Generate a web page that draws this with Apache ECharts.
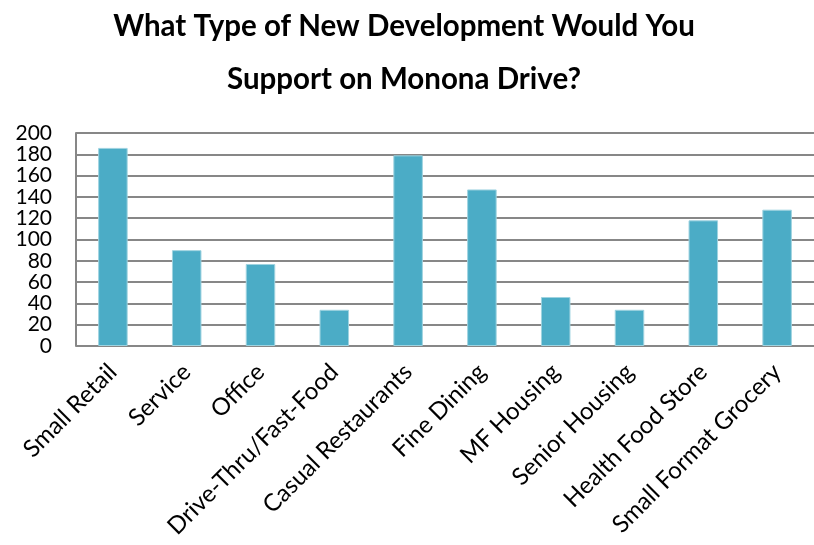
<!DOCTYPE html>
<html>
<head>
<meta charset="utf-8">
<script src="https://cdn.jsdelivr.net/npm/echarts@6/dist/echarts.min.js"></script>
<style>
  html, body { margin: 0; padding: 0; background: #fff; }
  #chart { width: 814px; height: 545px; }
</style>
</head>
<body>
<div id="chart"></div>
<script>
// Survey responses: preferred new development types along Monona Drive
const categories = [
  'Small Retail', 'Service', 'Office', 'Drive-Thru/Fast-Food',
  'Casual Restaurants', 'Fine Dining', 'MF Housing', 'Senior Housing',
  'Health Food Store', 'Small Format Grocery'
];
const responses = [186, 90, 77, 34, 179, 147, 46, 34, 118, 128];

const titleLines = ['What Type of New Development Would You', 'Support on Monona Drive?'];

const FONT = 'Lato, "Open Sans", sans-serif';
const chart = echarts.init(document.getElementById('chart'), null, { renderer: 'canvas' });

chart.setOption({
  animation: false,
  backgroundColor: '#ffffff',
  title: {
    text: titleLines.join('\n'),
    left: 404,
    textAlign: 'center',
    top: 0,
    padding: 0,
    textStyle: {
      fontFamily: FONT,
      fontWeight: 'bold',
      fontSize: 29.5,
      lineHeight: 53,
      color: '#000'
    }
  },
  grid: { left: 76, right: 0, top: 133, bottom: 199, containLabel: false },
  xAxis: {
    type: 'category',
    data: categories,
    axisLine: { show: false },
    axisTick: { show: false },
    axisLabel: {
      interval: 0,
      rotate: 45,
      margin: 22,
      fontFamily: FONT,
      fontSize: 24,
      color: '#000'
    }
  },
  yAxis: {
    type: 'value',
    min: 0,
    max: 200,
    interval: 20,
    axisLine: { show: true, lineStyle: { color: '#878787', width: 2 } },
    axisTick: { show: false },
    axisLabel: {
      margin: 24,
      fontFamily: FONT,
      fontSize: 21,
      color: '#000'
    },
    splitLine: { show: true, lineStyle: { color: '#878787', width: 2 } }
  },
  series: [{
    type: 'bar',
    data: responses,
    barWidth: '40%',
    itemStyle: { color: '#4BACC6', borderColor: '#9fd3e0', borderWidth: 1 }
  }]
});
</script>
</body>
</html>
